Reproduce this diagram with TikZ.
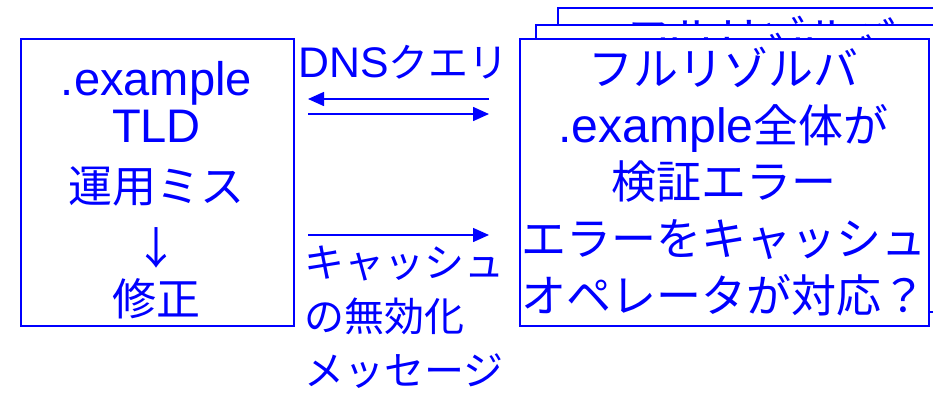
\documentclass[tikz,border=0pt]{standalone}
\usepackage{fontspec}
\setmainfont{Liberation Sans}[Scale=1.07]
\newfontfamily\jpfont{Noto Sans CJK JP}
\usetikzlibrary{arrows.meta}
\newcommand\jtxt[1]{{\jpfont #1}}
\definecolor{pblue}{RGB}{0,0,255}
\begin{document}
\begin{tikzpicture}[x=1pt,y=-1pt,
  boxst/.style={draw=pblue, line width=2pt, fill=white, anchor=north west, inner sep=0pt},
  bigtxt/.style={text=pblue, font=\fontsize{44}{52}\selectfont, anchor=base, inner sep=0pt},
  rtxt/.style={text=pblue, font=\fontsize{45}{52}\selectfont, anchor=base, inner sep=0pt},
  midtxt/.style={text=pblue, font=\fontsize{40}{48}\selectfont, anchor=base west, inner sep=0pt},
  arr/.style={draw=pblue, line width=1.5pt, -{Triangle[length=16pt,width=14pt]}}]
\clip (0,0) rectangle (933,394);
% back stacked boxes
\node[boxst, minimum width=409pt, minimum height=304pt] (back) at (557,7) {};
\node[rtxt] (backt) at (761.5,54) {\jtxt{フルリゾルバ}};
\node[boxst, minimum width=409pt, minimum height=287pt] (mid) at (535,24) {};
\node[rtxt] (midt) at (739.5,71) {\jtxt{フルリゾルバ}};
% front box
\node[boxst, minimum width=409pt, minimum height=287pt] (front) at (519,38) {};
\node[rtxt] (f1) at (723.5,85) {\jtxt{フルリゾルバ}};
\node[rtxt] (f2) at (723.5,142) {.example\jtxt{全体が}};
\node[rtxt] (f3) at (723.5,198) {\jtxt{検証エラー}};
\node[rtxt] (f4) at (723.5,255) {\jtxt{エラーをキャッシュ}};
\node[rtxt] (f5) at (723.5,312) {\jtxt{オペレータが対応？}};
% left box
\node[boxst, line width=1.6pt, minimum width=273pt, minimum height=287pt] (left) at (20,38) {};
\node[bigtxt] (l1) at (156.5,95) {.example};
\node[bigtxt] (l2) at (156.5,142) {TLD};
\node[bigtxt] (l3) at (156.5,202) {\jtxt{運用ミス}};
\node[bigtxt] (l4) at (156.5,264) {\jtxt{↓}};
\node[bigtxt] (l5) at (156.5,315) {\jtxt{修正}};
% middle labels
\node[text=pblue, font=\fontsize{40}{48}\selectfont, anchor=base, inner sep=0pt] (dns) at (403.5,77) {DNS\jtxt{クエリ}};
\node[midtxt] (m1) at (304,277) {\jtxt{キャッシュ}};
\node[midtxt] (m2) at (304,331) {\jtxt{の無効化}};
\node[midtxt] (m3) at (304,385) {\jtxt{メッセージ}};
% arrows
\coordinate (q1a) at (489,99);
\coordinate (q1b) at (308,99);
\coordinate (q2a) at (308,114);
\coordinate (q2b) at (489,114);
\coordinate (q3a) at (308,235);
\coordinate (q3b) at (489,235);
\draw[arr] (q1a) -- (q1b);
\draw[arr] (q2a) -- (q2b);
\draw[arr] (q3a) -- (q3b);
\end{tikzpicture}
\end{document}
